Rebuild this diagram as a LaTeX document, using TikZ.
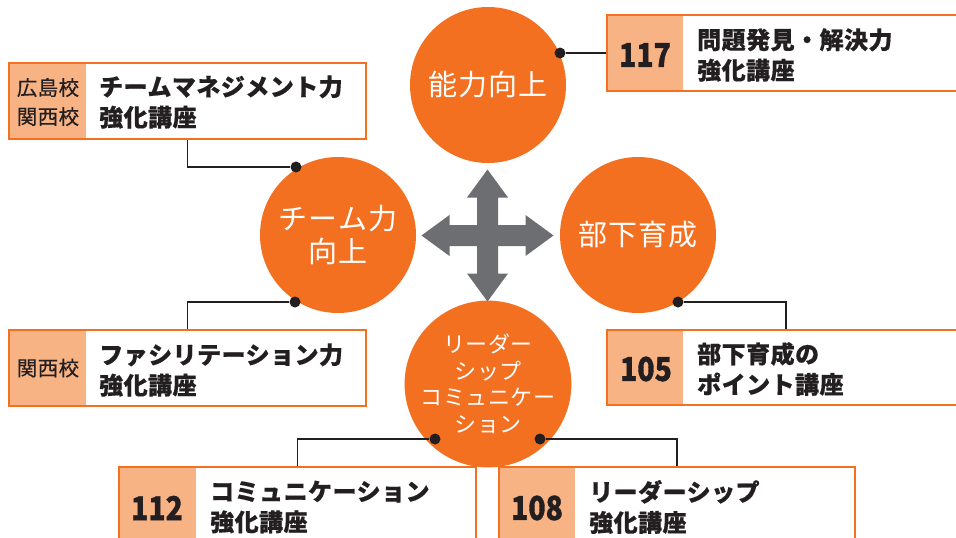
\documentclass[tikz,border=0pt]{standalone}
\usepackage{fontspec}
\setmainfont{Noto Sans CJK JP}
\newfontfamily\jp{Noto Sans CJK JP}
\usetikzlibrary{calc}
\definecolor{org}{HTML}{F37021}
\definecolor{lorg}{HTML}{F8B384}
\definecolor{inkc}{HTML}{231F20}
\definecolor{arrc}{HTML}{6D6E71}
\tikzset{
  bigc/.style={circle, fill=org, minimum size=156pt, inner sep=0pt, text=white, align=center,
    font=\jp\addfontfeatures{LetterSpace=4}\fontsize{29}{33}\selectfont},
  smallc/.style={circle, fill=org, minimum size=156pt, inner sep=0pt, text=white, align=center,
    font=\jp\addfontfeatures{LetterSpace=2}\fontsize{22}{26.5}\selectfont},
  boxc/.style={draw=org, line width=2pt, fill=white, inner sep=0pt},
  tagc/.style={fill=lorg, inner sep=0pt},
  tagtxt/.style={text=inkc, align=center, inner sep=0pt,
    font=\jp\addfontfeatures{LetterSpace=2, FakeBold=0.4}\fontsize{20.5}{29}\selectfont},
  numtxt/.style={text=inkc, inner sep=0pt,
    font=\jp\bfseries\addfontfeatures{FakeStretch=0.86, FakeBold=1}\fontsize{33}{36}\selectfont},
  maintxt/.style={text=inkc, align=left, anchor=west, inner sep=0pt,
    font=\jp\bfseries\addfontfeatures{LetterSpace=2, FakeBold=0.5}\fontsize{24}{30.5}\selectfont},
  dotc/.style={circle, fill=inkc, minimum size=11pt, inner sep=0pt},
  conn/.style={draw=inkc, line width=1.6pt},
}
\begin{document}
\begin{tikzpicture}[x=1pt,y=-1pt]
\useasboundingbox (0,0) rectangle (956,538);
\clip (0,0) rectangle (956,538);
\fill[white] (0,0) rectangle (956,538);

% circles
\node[bigc] (top) at (488,85) {能力向上};
\node[bigc] (right) at (638,235) {部下育成};
\node[bigc] (left) at (338,235) {チーム力\\向上};
\node[smallc] (bottom) at (488,384) {リーダー\\シップ\\コミュニケー\\ション};

% cross arrow
\fill[arrc] (487.5,235.5) ++(0,-66) -- ++(20.5,28) -- ++(-10,0) -- ++(0,27.5) -- ++(27.5,0)
  -- ++(0,-10) -- ++(28,20.5) -- ++(-28,20.5) -- ++(0,-10) -- ++(-27.5,0) -- ++(0,27.5)
  -- ++(10,0) -- ++(-20.5,28) -- ++(-20.5,-28) -- ++(10,0) -- ++(0,-27.5) -- ++(-27.5,0)
  -- ++(0,10) -- ++(-28,-20.5) -- ++(28,-20.5) -- ++(0,10) -- ++(27.5,0) -- ++(0,-27.5)
  -- ++(-10,0) -- cycle;

% boxes
\node[boxc, minimum width=357pt, minimum height=76pt] (bTL) at (187.5,101) {};
\node[tagc, minimum width=76pt, minimum height=74pt] (tTL) at (48,101) {};
\node[tagtxt] (gTL) at (48,102) {広島校\\関西校};
\node[maintxt] (mTL) at (99,102) {チームマネジメント力\\強化講座};

\node[boxc, minimum width=357pt, minimum height=76pt] (bBL) at (187.5,368) {};
\node[tagc, minimum width=76pt, minimum height=74pt] (tBL) at (48,368) {};
\node[tagtxt] (gBL) at (48,368) {関西校};
\node[maintxt] (mBL) at (99,370) {ファシリテーション力\\強化講座};

\node[boxc, minimum width=370pt, minimum height=76pt] (b117) at (792,53) {};
\node[tagc, minimum width=75pt, minimum height=74pt] (t117) at (645.5,53) {};
\node[numtxt] (n117) at (645,55) {117};
\node[maintxt] (m117) at (697,55) {問題発見・解決力\\強化講座};

\node[boxc, minimum width=358pt, minimum height=75pt] (b105) at (786,367.5) {};
\node[tagc, minimum width=75pt, minimum height=73pt] (t105) at (645.5,367.5) {};
\node[numtxt] (n105) at (646,369) {105};
\node[maintxt] (m105) at (697,369) {部下育成の\\ポイント講座};

\node[boxc, minimum width=357pt, minimum height=96pt] (b112) at (297.5,515) {};
\node[tagc, minimum width=76pt, minimum height=94pt] (t112) at (158,515) {};
\node[numtxt] (n112) at (157,508) {112};
\node[maintxt] (m112) at (210,507) {コミュニケーション\\強化講座};

\node[boxc, minimum width=356pt, minimum height=96pt] (b108) at (677,515) {};
\node[tagc, minimum width=75pt, minimum height=94pt] (t108) at (537.5,515) {};
\node[numtxt] (n108) at (537,508) {108};
\node[maintxt] (m108) at (589,507) {リーダーシップ\\強化講座};

% dots
\node[dotc] (dTL) at (296,167) {};
\node[dotc] (dBL) at (295,302) {};
\node[dotc] (d117) at (560,53) {};
\node[dotc] (d105) at (678,302) {};
\node[dotc] (d112) at (435,439) {};
\node[dotc] (d108) at (540,439) {};

% connectors
\draw[conn] (bTL.south) |- (dTL);
\draw[conn] (bBL.north) |- (dBL);
\draw[conn] (d117) -- (b117.west);
\draw[conn] (b105.north) |- (d105);
\draw[conn] (b112.north) |- (d112);
\draw[conn] (b108.north) |- (d108);
\end{tikzpicture}
\end{document}
